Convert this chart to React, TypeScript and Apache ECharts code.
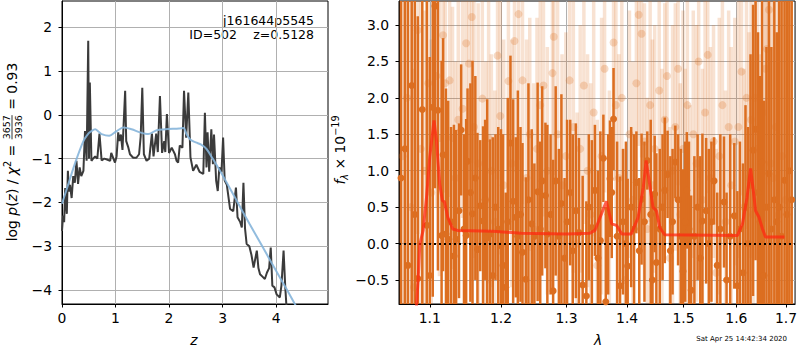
import React, { useEffect, useRef } from "react";
import * as echarts from "echarts";

const FONT = "DejaVu Sans";

// ---------- left panel: p(z) ----------
const zTicks = [0, 1, 2, 3, 4];
const logpTicks = [-4, -3, -2, -1, 0, 1, 2];

const pzZ = [0.0, 0.02, 0.04, 0.06, 0.08, 0.09, 0.11, 0.13, 0.15, 0.18, 0.21, 0.24, 0.27, 0.3, 0.33, 0.36, 0.4, 0.43, 0.46, 0.49, 0.505, 0.52, 0.55, 0.58, 0.62, 0.66, 0.7, 0.74, 0.79, 0.84, 0.9, 0.92, 0.99, 1.02, 1.05, 1.07, 1.1, 1.13, 1.18, 1.2, 1.24, 1.27, 1.33, 1.39, 1.44, 1.47, 1.5, 1.53, 1.58, 1.63, 1.68, 1.71, 1.76, 1.79, 1.83, 1.87, 1.91, 1.93, 1.96, 2.0, 2.05, 2.11, 2.14, 2.17, 2.2, 2.25, 2.28, 2.32, 2.36, 2.4, 2.45, 2.51, 2.57, 2.64, 2.67, 2.7, 2.72, 2.75, 2.79, 2.82, 2.84, 2.88, 2.91, 2.94, 2.98, 3.01, 3.04, 3.08, 3.14, 3.2, 3.25, 3.28, 3.33, 3.36, 3.39, 3.42, 3.45, 3.5, 3.54, 3.58, 3.64, 3.67, 3.7, 3.75, 3.79, 3.83, 3.87, 3.9, 3.93, 3.97, 4.01, 4.07, 4.1, 4.14, 4.17, 4.2];
const pzLogp = [-2.65, -2.3, -2.45, -1.67, -2.1, -2.26, -1.28, -1.75, -1.6, -1.9, -1.4, -1.55, -1.05, -1.58, -1.2, -1.4, -1.28, -0.37, -1.05, 1.69, -1.0, 0.74, -1.05, -1.0, -0.95, -1.0, -0.43, -1.04, -1.0, -1.02, -1.05, -0.87, -1.09, -0.95, -0.4, -0.6, -0.45, -0.8, 0.55, -0.6, -0.75, -0.9, -0.98, -0.98, -0.9, -0.5, 0.62, -0.9, -1.05, -1.0, -0.43, -0.95, -0.43, -0.85, 0.43, -0.87, -0.6, -0.85, 0.02, -0.87, -0.75, -0.9, -1.05, -1.09, -0.7, -0.75, 0.55, -0.52, 0.51, -0.97, -1.28, -1.14, -1.3, -1.35, 0.05, -1.2, -0.4, -1.3, -0.33, -1.13, -0.45, -1.5, -1.74, -1.2, -1.3, -0.52, -1.5, -1.6, -2.15, -2.2, -1.66, -2.34, -2.45, -2.57, -1.55, -2.6, -2.95, -3.0, -3.2, -3.49, -3.1, -3.5, -3.64, -3.7, -3.75, -3.6, -3.5, -3.03, -3.9, -3.94, -4.1, -4.17, -3.9, -3.1, -3.9, -4.5];

const priorZ = [0.0, 0.1, 0.24, 0.4, 0.5, 0.55, 0.62, 0.68, 0.74, 0.88, 1.02, 1.15, 1.3, 1.46, 1.61, 1.77, 1.93, 2.19, 2.27, 2.33, 2.4, 2.5, 2.6, 2.7, 2.8, 2.9, 3.0, 3.25, 3.5, 3.75, 4.0, 4.2, 4.35, 4.45];
const priorLogp = [-2.03, -1.65, -1.12, -0.6, -0.42, -0.37, -0.33, -0.38, -0.44, -0.48, -0.37, -0.29, -0.33, -0.4, -0.44, -0.35, -0.33, -0.31, -0.3, -0.45, -0.57, -0.63, -0.68, -0.78, -0.97, -1.17, -1.38, -1.93, -2.48, -3.02, -3.56, -3.99, -4.32, -4.55];

// ---------- right panel: spectrum ----------
const lamTicks = [1.1, 1.2, 1.3, 1.4, 1.5, 1.6, 1.7];
const fluxTicks = [-0.5, 0, 0.5, 1, 1.5, 2, 2.5, 3];

const darkLam = [1.062, 1.067, 1.071, 1.076, 1.08, 1.084, 1.09, 1.096, 1.1, 1.104, 1.107, 1.111, 1.116, 1.118, 1.122, 1.125, 1.129, 1.133, 1.136, 1.14, 1.143, 1.147, 1.15, 1.152, 1.156, 1.159, 1.163, 1.166, 1.17, 1.174, 1.177, 1.18, 1.184, 1.188, 1.192, 1.196, 1.2, 1.203, 1.207, 1.21, 1.214, 1.218, 1.222, 1.225, 1.229, 1.232, 1.237, 1.241, 1.246, 1.25, 1.255, 1.259, 1.262, 1.267, 1.27, 1.275, 1.279, 1.283, 1.288, 1.292, 1.297, 1.301, 1.306, 1.31, 1.315, 1.32, 1.326, 1.332, 1.336, 1.341, 1.346, 1.351, 1.355, 1.36, 1.364, 1.368, 1.371, 1.374, 1.377, 1.383, 1.388, 1.393, 1.398, 1.401, 1.407, 1.412, 1.416, 1.421, 1.425, 1.43, 1.435, 1.441, 1.444, 1.448, 1.451, 1.457, 1.462, 1.466, 1.471, 1.476, 1.48, 1.485, 1.49, 1.495, 1.499, 1.503, 1.506, 1.51, 1.514, 1.52, 1.526, 1.531, 1.535, 1.542, 1.547, 1.552, 1.557, 1.563, 1.569, 1.576, 1.581, 1.588, 1.596, 1.602, 1.607, 1.613, 1.618, 1.623, 1.628, 1.633, 1.638, 1.643, 1.647, 1.651, 1.655, 1.66, 1.665, 1.67, 1.676, 1.681, 1.686, 1.691, 1.697, 1.702, 1.707, 1.712];
const darkFlux = [0.9, 1.3, -0.3, 2.17, 0.4, -0.48, 1.84, 0.25, -0.44, 1.87, 3.26, 1.83, 0.11, 1.22, 0.13, 0.06, 0.3, -0.17, 0.06, 0.45, 1.56, 0.2, 0.11, 1.13, 0.7, 0.41, 0.9, -0.08, 0.52, 0.31, 0.6, 0.08, 0.13, -0.44, 0.5, 0.2, -0.03, -0.3, -0.6, 0.3, 1.38, 0.58, 0.36, 0.1, 0.4, -0.12, -0.49, 0.6, 0.27, 0.1, 0.71, 0.2, 0.86, 0.66, 0.13, 0.4, -0.65, 0.86, 0.1, 0.55, -0.2, 0.3, 0.7, -0.1, 0.45, 0.15, -0.57, -0.72, 0.5, 0.22, 0.73, -0.2, 0.04, 1.17, -0.8, 0.4, 0.89, 0.7, 1.71, 0.1, -0.58, 0.3, 0.0, -0.31, 0.5, 0.2, 0.84, -0.1, 0.61, 0.3, 1.14, 0.4, -0.5, 0.68, -0.26, 0.2, 0.5, 0.73, 0.95, -0.1, 0.3, 1.12, 0.6, 0.1, -0.38, 0.3, 0.73, 0.2, -0.64, 0.1, 0.5, -0.2, 0.31, 0.45, 0.0, 0.3, 0.86, -0.3, 0.2, 0.57, -0.5, 0.1, 0.38, -0.58, 0.2, -0.4, 0.5, 0.0, 0.8, 1.28, 1.57, 0.7, 0.3, 1.12, -0.44, 0.5, 0.96, 0.2, 0.6, 0.3, 0.5, 0.1, 0.87, 0.4, 1.0, 0.6];
const darkErr = [4.5, 4.2, 4.0, 3.8, 3.5, 3.6, 3.2, 3.3, 3.0, 2.6, 2.5, 2.2, 2.4, 1.6, 2.0, 1.9, 1.3, 1.8, 1.5, 1.2, 0.9, 1.3, 1.6, 1.0, 1.5, 2.1, 1.4, 1.6, 0.9, 1.3, 1.1, 1.9, 1.3, 1.9, 1.0, 1.4, 1.6, 1.8, 1.3, 1.7, 1.2, 1.4, 1.1, 2.0, 1.2, 1.5, 1.4, 1.6, 1.3, 1.0, 1.5, 1.2, 1.3, 1.0, 1.5, 1.1, 1.8, 1.3, 1.2, 1.5, 1.1, 1.4, 1.0, 1.6, 1.2, 1.3, 1.5, 1.3, 1.0, 1.2, 0.9, 1.2, 1.5, 0.6, 1.3, 1.1, 0.8, 0.9, 0.7, 1.3, 1.5, 1.0, 1.4, 1.2, 1.1, 1.3, 0.7, 1.0, 0.9, 1.1, 0.4, 1.3, 1.2, 0.8, 1.5, 1.1, 1.0, 1.0, 0.6, 1.3, 1.0, 0.5, 0.9, 1.2, 1.4, 1.1, 0.8, 1.2, 1.3, 1.1, 1.0, 1.4, 1.2, 1.0, 1.3, 1.1, 0.6, 1.0, 1.3, 0.9, 1.2, 1.4, 1.0, 1.3, 1.2, 1.5, 1.4, 1.6, 1.8, 2.0, 1.8, 2.2, 2.0, 2.3, 2.4, 2.2, 2.6, 2.5, 2.8, 2.6, 3.0, 3.3, 3.5, 4.0, 4.2, 4.5, 4.8];

const lightLam = [1.064, 1.07, 1.075, 1.079, 1.084, 1.088, 1.093, 1.098, 1.102, 1.109, 1.113, 1.118, 1.121, 1.127, 1.131, 1.135, 1.139, 1.145, 1.15, 1.154, 1.158, 1.161, 1.167, 1.173, 1.178, 1.182, 1.186, 1.191, 1.195, 1.199, 1.204, 1.211, 1.216, 1.22, 1.226, 1.232, 1.238, 1.243, 1.249, 1.254, 1.259, 1.264, 1.27, 1.278, 1.28, 1.286, 1.293, 1.299, 1.305, 1.311, 1.317, 1.322, 1.328, 1.334, 1.339, 1.344, 1.35, 1.357, 1.362, 1.37, 1.377, 1.381, 1.386, 1.391, 1.397, 1.404, 1.41, 1.416, 1.42, 1.425, 1.43, 1.435, 1.44, 1.444, 1.448, 1.456, 1.461, 1.466, 1.47, 1.475, 1.48, 1.485, 1.49, 1.494, 1.499, 1.503, 1.507, 1.512, 1.518, 1.524, 1.528, 1.535, 1.54, 1.545, 1.55, 1.556, 1.561, 1.567, 1.573, 1.579, 1.585, 1.59, 1.597, 1.604, 1.61, 1.615, 1.62, 1.625, 1.629, 1.633, 1.637, 1.642, 1.647, 1.653, 1.658, 1.661, 1.665, 1.669, 1.674, 1.679, 1.685, 1.692, 1.699];
const lightFlux = [1.2, 2.0, 0.5, -0.6, 2.93, 1.3, 1.0, 2.2, 0.7, 2.3, 1.45, 2.86, 2.2, 2.24, 1.45, 0.9, 1.7, 1.85, 2.75, 2.47, 3.11, 1.6, 1.1, 1.99, 0.6, 1.45, 1.0, 0.3, 2.58, 1.75, 0.8, 2.23, 1.1, 2.78, 3.15, 2.24, 0.9, 1.5, 0.2, 1.3, 1.9, 2.17, 1.0, 2.34, 2.84, 1.5, 0.8, 1.2, 2.24, 1.6, 0.0, 1.3, 2.17, 1.0, 0.4, 1.8, -0.3, 1.2, 2.4, 0.3, 2.76, 1.9, 0.9, 2.0, -0.5, 1.5, 0.6, 2.2, 3.14, 2.88, 1.4, 0.2, 1.9, 0.8, 1.3, 2.1, 0.5, 1.7, 2.3, -0.2, 1.0, 1.6, 2.4, 0.4, 1.3, 0.7, 1.9, 0.1, 1.5, 1.1, 2.5, 0.6, 1.8, 2.59, 0.9, 1.4, -0.4, 1.2, 1.9, 0.3, 1.6, 0.8, 1.4, 1.6, 2.36, 0.5, 2.0, 0.9, 1.7, 0.4, 2.0, 1.3, 0.6, 1.8, 2.4, 2.67, 3.21, 1.1, 0.9, 1.6, 0.4, 1.2, 0.6];
const lightErr = [3.5, 3.0, 3.2, 3.0, 2.8, 2.5, 2.2, 2.0, 2.1, 1.8, 1.9, 1.7, 1.5, 1.6, 1.8, 1.6, 1.9, 1.5, 1.8, 1.6, 2.0, 1.8, 2.2, 1.7, 1.9, 2.0, 1.6, 1.8, 1.7, 1.9, 2.0, 1.5, 1.7, 1.8, 2.0, 1.7, 1.9, 1.6, 2.0, 1.8, 1.6, 1.8, 1.7, 1.6, 1.9, 2.0, 1.8, 1.7, 1.6, 2.0, 1.8, 1.7, 1.9, 1.6, 1.8, 1.7, 2.0, 1.9, 1.7, 1.8, 1.9, 1.6, 1.7, 2.0, 1.8, 1.7, 1.9, 1.6, 1.8, 1.7, 1.9, 1.8, 1.6, 2.0, 1.7, 1.8, 1.9, 1.6, 1.7, 1.8, 2.0, 1.7, 1.6, 1.8, 1.9, 1.7, 1.6, 1.8, 1.7, 1.9, 1.6, 1.8, 1.7, 1.9, 1.8, 1.6, 1.7, 1.9, 1.7, 1.8, 1.6, 1.9, 1.7, 1.8, 1.7, 1.9, 1.8, 2.0, 1.9, 2.1, 2.0, 2.2, 2.0, 2.3, 2.1, 2.2, 2.4, 2.5, 2.6, 2.8, 3.0, 3.2, 3.5];

const modelLam = [1.079, 1.0824, 1.0845, 1.0867, 1.0911, 1.0956, 1.1, 1.1057, 1.109, 1.1134, 1.117, 1.12, 1.1245, 1.1313, 1.138, 1.188, 1.23, 1.3, 1.337, 1.346, 1.357, 1.365, 1.374, 1.382, 1.391, 1.407, 1.419, 1.428, 1.433, 1.439, 1.445, 1.451, 1.457, 1.466, 1.602, 1.612, 1.621, 1.628, 1.634, 1.638, 1.645, 1.652, 1.658, 1.697];
const modelFlux = [-1.5, -0.83, -0.49, -0.01, 0.18, 0.63, 1.19, 1.69, 1.42, 0.82, 0.59, 0.57, 0.36, 0.2, 0.18, 0.17, 0.14, 0.13, 0.14, 0.18, 0.41, 0.58, 0.27, 0.25, 0.13, 0.13, 0.36, 0.77, 1.14, 0.82, 0.5, 0.45, 0.22, 0.12, 0.11, 0.27, 0.63, 1.03, 0.7, 0.45, 0.36, 0.2, 0.09, 0.09];

const DARK = "#dc6e20";
const minus = (s: string) => s.replace("-", "\u2212");

function measure(text: string, size: number, italic = false) {
  const ctx = document.createElement("canvas").getContext("2d");
  if (!ctx) return text.length * size * 0.6;
  ctx.font = `${italic ? "italic " : ""}${size}px "${FONT}"`;
  return ctx.measureText(text).width;
}

type Seg = { t?: string; s?: number; i?: boolean; dy?: number; frac?: [string, string] };

function rotatedLabel(cx: number, cy: number, segs: Seg[]) {
  const widths = segs.map((g) => {
    if (g.frac) return Math.max(measure(g.frac[0], g.s || 9.5), measure(g.frac[1], g.s || 9.5)) + 2;
    return measure(g.t || "", g.s || 13.9, g.i);
  });
  const total = widths.reduce((a, b) => a + b, 0);
  let x = -total / 2;
  const children: any[] = [];
  segs.forEach((g, k) => {
    const w = widths[k];
    if (g.frac) {
      const fs = g.s || 9.5;
      children.push({ type: "text", x: x + w / 2, y: -6, style: { text: g.frac[0], fontSize: fs, fontFamily: FONT, fill: "#000", align: "center", verticalAlign: "middle" } });
      children.push({ type: "text", x: x + w / 2, y: 6, style: { text: g.frac[1], fontSize: fs, fontFamily: FONT, fill: "#000", align: "center", verticalAlign: "middle" } });
      children.push({ type: "line", shape: { x1: x + 1, y1: 0, x2: x + w - 1, y2: 0 }, style: { stroke: "#000", lineWidth: 0.8 } });
    } else {
      children.push({
        type: "text",
        x,
        y: g.dy || 0,
        style: { text: g.t, fontSize: g.s || 13.9, fontFamily: FONT, fontStyle: g.i ? "italic" : "normal", fill: "#000", align: "left", verticalAlign: "middle" },
      });
    }
    x += w;
  });
  return { type: "group", x: cx, y: cy, rotation: Math.PI / 2, children };
}

export default function App() {
  const ref = useRef<HTMLDivElement>(null);
  useEffect(() => {
    if (!ref.current) return;
    const chart = echarts.init(ref.current, null, { renderer: "svg" });

    const pzData = pzZ.map((z, i) => [z, pzLogp[i]]);
    const priorData = priorZ.map((z, i) => [z, priorLogp[i]]);
    const darkData = darkLam.map((l, i) => [Math.log(l), darkFlux[i], darkErr[i]]);
    const lightData = lightLam.map((l, i) => [Math.log(l), lightFlux[i], lightErr[i]]);
    const modelData = modelLam.map((l, i) => [Math.log(l), modelFlux[i]]);

    const labelStyle = { color: "#000", fontSize: 13.9, fontFamily: FONT };
    const gridLine = { show: true, lineStyle: { color: "#b0b0b0", width: 1 } };
    const axLine = { show: true, onZero: false, lineStyle: { color: "#000", width: 1 } };

    const errBar = (color: string, width: number, opacity: number) => (params: any, api: any) => {
      const x = api.value(0);
      const y = api.value(1);
      const e = api.value(2);
      const p1 = api.coord([x, y - e]);
      const p2 = api.coord([x, y + e]);
      return {
        type: "line",
        shape: { x1: p1[0], y1: p1[1], x2: p2[0], y2: p2[1] },
        style: { stroke: color, lineWidth: width, opacity },
      };
    };

    const option: any = {
      animation: false,
      textStyle: { fontFamily: FONT },
      grid: [
        { left: 62, top: 1, width: 266, height: 303, show: true, borderColor: "#000", borderWidth: 1, backgroundColor: "#fff" },
        { left: 399, top: 1, width: 399, height: 303, show: true, borderColor: "#000", borderWidth: 1, backgroundColor: "#fff" },
      ],
      xAxis: [
        {
          type: "value", gridIndex: 0, min: 0, max: 4.97,
          axisLine: axLine,
          axisTick: { show: true, length: 3.5, customValues: zTicks, lineStyle: { color: "#000" } },
          axisLabel: { ...labelStyle, margin: 7, customValues: zTicks, formatter: (v: number) => minus(String(v)) },
          splitLine: gridLine,
        },
        {
          type: "value", gridIndex: 1, min: Math.log(1.0594), max: Math.log(1.719),
          axisLine: axLine,
          axisTick: { show: true, length: 3.5, customValues: lamTicks.map(Math.log), lineStyle: { color: "#000" } },
          axisLabel: { ...labelStyle, margin: 7, customValues: lamTicks.map(Math.log), formatter: (v: number) => Math.exp(v).toFixed(1) },
          splitLine: gridLine,
        },
      ],
      yAxis: [
        {
          type: "value", gridIndex: 0, min: -4.32, max: 2.6,
          axisLine: axLine,
          axisTick: { show: true, length: 3.5, customValues: logpTicks, lineStyle: { color: "#000" } },
          axisLabel: { ...labelStyle, margin: 10, customValues: logpTicks, formatter: (v: number) => minus(String(v)) },
          splitLine: gridLine,
        },
        {
          type: "value", gridIndex: 1, min: -0.83, max: 3.33,
          axisLine: axLine,
          axisTick: { show: true, length: 3.5, customValues: fluxTicks, lineStyle: { color: "#000" } },
          axisLabel: { ...labelStyle, margin: 10, customValues: fluxTicks, formatter: (v: number) => minus(v.toFixed(1)) },
          splitLine: gridLine,
        },
      ],
      series: [
        {
          type: "line", xAxisIndex: 0, yAxisIndex: 0, data: pzData, showSymbol: false, clip: true, z: 3,
          lineStyle: { color: "#3b3b3b", width: 2 },
        },
        {
          type: "line", xAxisIndex: 0, yAxisIndex: 0, data: priorData, showSymbol: false, clip: true, smooth: 0.3, z: 4,
          lineStyle: { color: "#86b5da", width: 2, opacity: 0.9 },
        },
        {
          type: "custom", xAxisIndex: 1, yAxisIndex: 1, data: lightData, clip: true, z: 2,
          renderItem: errBar(DARK, 3.5, 0.2),
          encode: { x: 0, y: 1 },
        },
        {
          type: "scatter", xAxisIndex: 1, yAxisIndex: 1, data: lightData.map((d) => [d[0], d[1]]), symbolSize: 8, z: 2,
          itemStyle: { color: DARK, opacity: 0.25 },
        },
        {
          type: "custom", xAxisIndex: 1, yAxisIndex: 1, data: darkData, clip: true, z: 3,
          renderItem: errBar(DARK, 2.5, 1),
          encode: { x: 0, y: 1 },
        },
        {
          type: "scatter", xAxisIndex: 1, yAxisIndex: 1, data: darkData.map((d) => [d[0], d[1]]), symbolSize: 7, z: 4,
          itemStyle: { color: DARK, opacity: 1 },
        },
        {
          type: "line", xAxisIndex: 1, yAxisIndex: 1, data: modelData, showSymbol: false, clip: true, z: 5,
          lineStyle: { color: "#ff2a12", width: 3, opacity: 0.75 },
          markLine: {
            silent: true, symbol: ["none", "none"], label: { show: false },
            lineStyle: { color: "#000", type: [2, 3], width: 2, opacity: 1 },
            data: [{ yAxis: 0 }],
          },
        },
      ],
      graphic: [
        { type: "text", x: 314, y: 20, style: { text: "j161644p5545", fontSize: 12.5, fontFamily: FONT, fill: "#000", align: "right", verticalAlign: "middle" } },
        { type: "text", x: 237, y: 34, style: { text: "ID=502", fontSize: 12.5, fontFamily: FONT, fill: "#000", align: "right", verticalAlign: "middle" } },
        { type: "text", x: 314, y: 34, style: { text: "z=0.5128", fontSize: 12.5, fontFamily: FONT, fill: "#000", align: "right", verticalAlign: "middle" } },
        { type: "text", x: 194, y: 340, style: { text: "z", fontSize: 13.9, fontStyle: "italic", fontFamily: FONT, fill: "#000", align: "center", verticalAlign: "middle" } },
        { type: "text", x: 598, y: 340, style: { text: "λ", fontSize: 13.9, fontStyle: "italic", fontFamily: FONT, fill: "#000", align: "center", verticalAlign: "middle" } },
        { type: "text", x: 787, y: 339, style: { text: "Sat Apr 25 14:42:34 2020", fontSize: 7, fontFamily: FONT, fill: "#000", align: "right", verticalAlign: "middle" } },
        rotatedLabel(12, 152, [
          { t: "log " },
          { t: "p", i: true },
          { t: "(" },
          { t: "z", i: true },
          { t: ") / " },
          { t: "χ", i: true },
          { t: "2", s: 9.7, dy: -5 },
          { t: " = " },
          { frac: ["3657", "3936"], s: 9.5 },
          { t: " = 0.93" },
        ]),
        rotatedLabel(340, 150, [
          { t: "f", i: true },
          { t: "λ", i: true, s: 9.7, dy: 4 },
          { t: " × 10" },
          { t: "\u221219", s: 9.7, dy: -5 },
        ]),
      ],
    };
    chart.setOption(option);
    return () => chart.dispose();
  }, []);
  return <div ref={ref} style={{ position: "fixed", left: 0, top: 0, width: 800, height: 350, background: "#fff" }} />;
}
